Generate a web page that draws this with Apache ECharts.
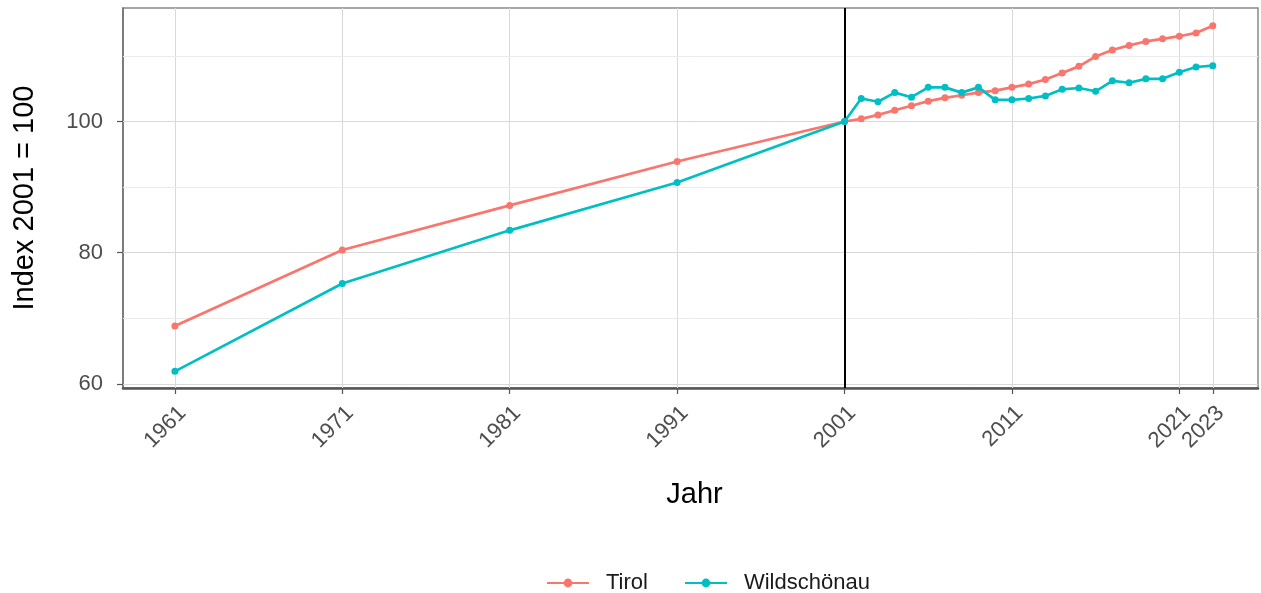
<!DOCTYPE html>
<html><head><meta charset="utf-8">
<script src="https://cdn.jsdelivr.net/npm/echarts@6/dist/echarts.min.js"></script>
<style>html,body{margin:0;padding:0;background:#fff}#c{width:1261px;height:593px}</style>
</head><body><div id="c"></div>
<script>
const years = [1961,1971,1981,1991,2001,2002,2003,2004,2005,2006,2007,2008,2009,2010,2011,2012,2013,2014,2015,2016,2017,2018,2019,2020,2021,2022,2023];
const tirol = [68.8,80.4,87.2,93.9,100,100.4,101.0,101.7,102.4,103.1,103.6,104.0,104.4,104.7,105.2,105.7,106.4,107.4,108.4,109.9,110.9,111.6,112.2,112.6,113.0,113.5,114.6];
const wild = [61.9,75.3,83.4,90.7,100,103.5,103.0,104.4,103.7,105.2,105.2,104.4,105.2,103.3,103.3,103.5,103.9,104.9,105.1,104.6,106.2,105.9,106.5,106.5,107.5,108.3,108.5];
const xTicks = [1961,1971,1981,1991,2001,2011,2021,2023];
const yTicks = [60,80,100];
const yMinor = [70,90,110];

const chart = echarts.init(document.getElementById('c'));
const font = 'Liberation Sans, Arial, sans-serif';
const gridLines = [];
xTicks.forEach(v => gridLines.push({xAxis: v, lineStyle:{color:'#d9d9d9', width:1, type:'solid'}}));
yTicks.forEach(v => gridLines.push({yAxis: v, lineStyle:{color:'#d9d9d9', width:1, type:'solid'}}));
yMinor.forEach(v => gridLines.push({yAxis: v, lineStyle:{color:'#ebebeb', width:1, type:'solid'}}));

chart.setOption({
  animation:false,
  textStyle:{fontFamily:font},
  grid:{left:123,right:3,top:8,bottom:205,show:true,borderColor:'#8a8a8a',borderWidth:1.5},
  legend:{top:567,left:541,itemWidth:42,itemHeight:11,itemGap:36,
    textStyle:{fontSize:22,color:'#1a1a1a',fontFamily:font,padding:[0,0,0,12]},
    data:['Tirol','Wildschönau']},
  xAxis:{type:'value',min:1957.9,max:2025.7,
    name:'Jahr',nameLocation:'middle',nameGap:92,nameTextStyle:{fontSize:29,color:'#000',fontFamily:font,padding:[0,0,0,8]},
    axisLine:{show:true,onZero:false,lineStyle:{color:'#555',width:2.5}},
    axisTick:{show:true,customValues:xTicks,length:6,lineStyle:{color:'#555',width:1.2}},
    axisLabel:{customValues:xTicks,rotate:45,fontSize:22,color:'#4d4d4d',margin:14,verticalAlign:'top',fontFamily:font,formatter:v=>String(v)},
    splitLine:{show:false}},
  yAxis:{type:'value',min:59.36,max:117.3,
    name:'Index 2001 = 100',nameLocation:'middle',nameGap:84,nameTextStyle:{fontSize:29,color:'#000',fontFamily:font},
    axisLine:{show:true,lineStyle:{color:'#6e6e6e',width:1.5}},
    axisTick:{show:true,customValues:yTicks,length:6,lineStyle:{color:'#555',width:1.2}},
    axisLabel:{customValues:yTicks,fontSize:22,color:'#4d4d4d',margin:20,fontFamily:font},
    splitLine:{show:false}},
  series:[
    {name:'grid',type:'line',data:[],silent:true,z:0,
      markLine:{silent:true,z:1,symbol:'none',label:{show:false},animation:false,data:gridLines.concat([{xAxis:2001,lineStyle:{color:'#000',width:2,type:'solid'}}])}},
    {name:'Tirol',type:'line',data:years.map((y,i)=>[y,tirol[i]]),color:'#F8766D',
      lineStyle:{width:2.7},itemStyle:{borderWidth:0},symbol:'circle',symbolSize:7,showSymbol:true,z:3},
    {name:'Wildschönau',type:'line',data:years.map((y,i)=>[y,wild[i]]),color:'#00BFC4',
      lineStyle:{width:2.7},itemStyle:{borderWidth:0},symbol:'circle',symbolSize:7,showSymbol:true,z:4}
  ]
});
</script></body></html>
